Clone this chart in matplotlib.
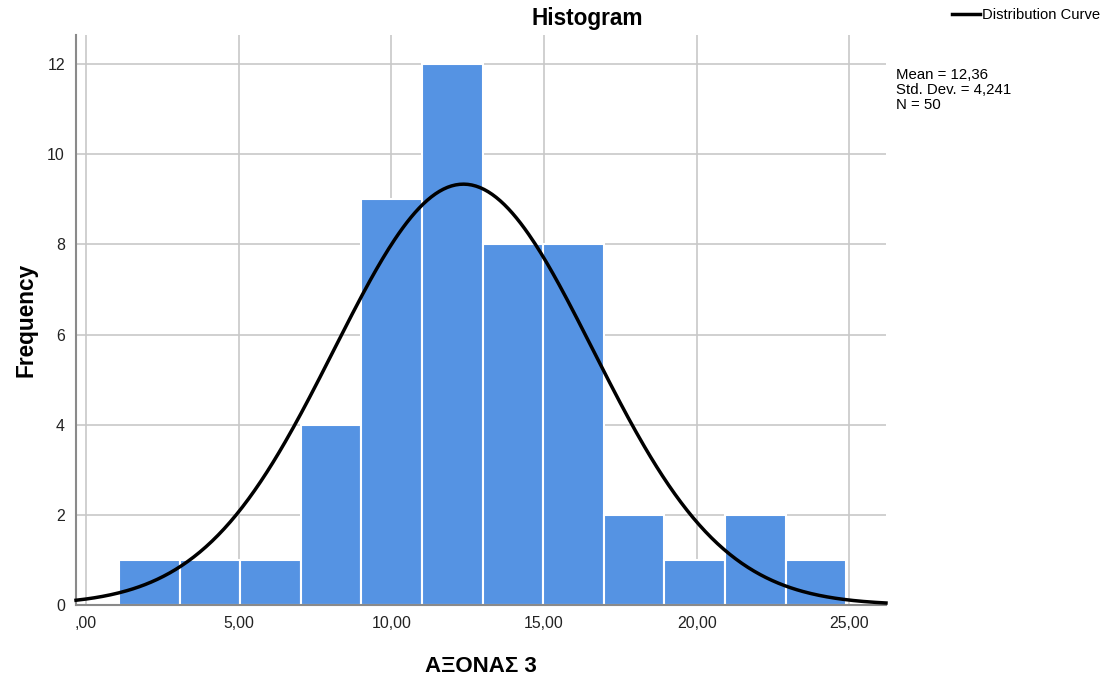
import numpy as np
import matplotlib
matplotlib.use("Agg")
import matplotlib.pyplot as plt

plt.rcParams['font.family'] = ['Liberation Sans', 'DejaVu Sans']

# histogram data
bin_start = 1.08
bin_width = 1.985
counts = [1, 1, 1, 4, 9, 12, 8, 8, 2, 1, 2, 1]
mean = 12.36
std = 4.241
n = 50

x_ticks = [0, 5, 10, 15, 20, 25]
x_labels = [',00', '5,00', '10,00', '15,00', '20,00', '25,00']
y_ticks = [0, 2, 4, 6, 8, 10, 12]

fig = plt.figure(figsize=(11.05, 6.77), dpi=100)
ax = fig.add_axes([0.0688, 0.1063, 0.7330, 0.8417])

edges = bin_start + bin_width * np.arange(len(counts) + 1)
ax.bar(edges[:-1], counts, width=bin_width, align='edge', color='#5593e3',
       edgecolor='white', linewidth=1.5, zorder=2)

# normal curve scaled to counts
xlim = (-0.33, 26.2)
xs = np.linspace(xlim[0], xlim[1], 400)
ys = n * bin_width / (std * np.sqrt(2 * np.pi)) * np.exp(-0.5 * ((xs - mean) / std) ** 2)
line, = ax.plot(xs, ys, color='black', linewidth=2.5, zorder=3, clip_on=False)

ax.set_xlim(*xlim)
ax.set_ylim(0, 12.64)
ax.set_xticks(x_ticks)
ax.set_xticklabels(x_labels)
ax.set_yticks(y_ticks)
ax.tick_params(length=0, labelsize=11.4, colors='#222222', pad=8)
ax.grid(True, color='#c8c8c8', linewidth=1.2, zorder=0)
ax.set_axisbelow(True)

for s in ['top', 'right']:
    ax.spines[s].set_visible(False)
for s in ['left', 'bottom']:
    ax.spines[s].set_color('#8a8a8a')
    ax.spines[s].set_linewidth(1.5)

ax.set_ylabel('Frequency', fontsize=16.3, fontweight='bold', labelpad=7)
ax.set_xlabel('ΑΞΟΝΑΣ 3', fontsize=16, fontweight='bold', labelpad=18)

fig.text(0.531, 0.973, 'Histogram', ha='center', va='center', fontsize=16.3, fontweight='bold')

# legend and stats box
fig.legend([line], ['Distribution Curve'], loc='center left',
           bbox_to_anchor=(0.856, 0.978), frameon=False, fontsize=10.6,
           handlelength=1.9, handletextpad=0.15, borderaxespad=0)
fig.text(0.811, 0.900, 'Mean = %s\nStd. Dev. = %s\nN = %d' % (
    ('%.2f' % mean).replace('.', ','), ('%.3f' % std).replace('.', ','), n),
    ha='left', va='top', fontsize=10.8, linespacing=1.12)

fig.savefig('out.png', dpi=100)
